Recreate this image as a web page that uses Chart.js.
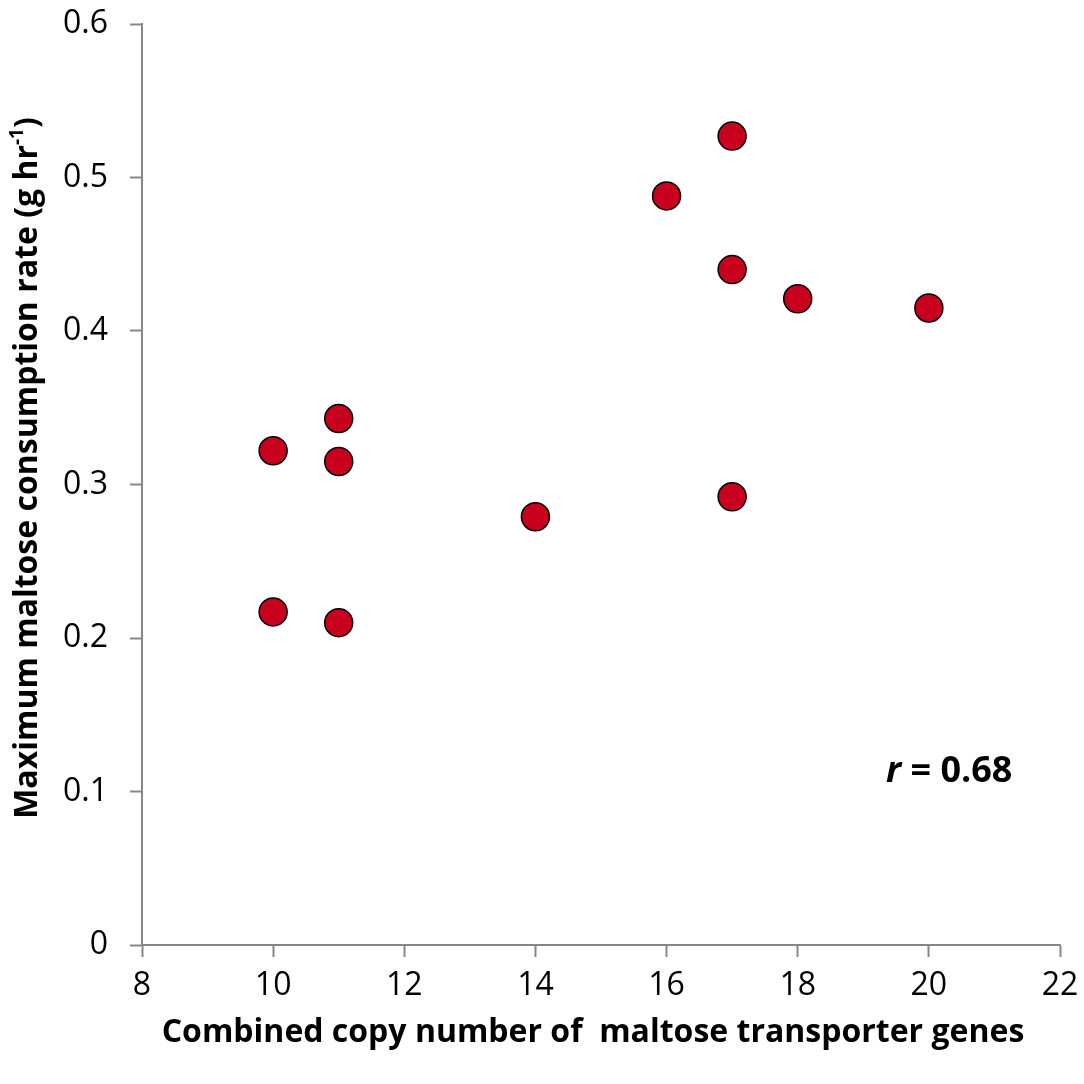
<!DOCTYPE html>
<html>
<head>
<meta charset="utf-8">
<script src="https://cdn.jsdelivr.net/npm/chart.js@4.4.1/dist/chart.umd.min.js"></script>
<style>
  html, body { margin: 0; padding: 0; background: #fff; }
  #wrap { width: 1084px; height: 1084px; }
</style>
</head>
<body>
<div id="wrap"><canvas id="chart" width="1084" height="1084"></canvas></div>
<script>
// data
const copyNumbers = [10, 10, 11, 11, 11, 14, 16, 17, 17, 17, 18, 20];
const maltoseRates = [0.322, 0.217, 0.343, 0.315, 0.210, 0.279, 0.488, 0.527, 0.440, 0.292, 0.421, 0.415];
const xTicks = [8, 10, 12, 14, 16, 18, 20, 22];
const yTicks = [0, 0.1, 0.2, 0.3, 0.4, 0.5, 0.6];

const xTitle = 'Combined copy number of  maltose transporter genes';
const yTitle = 'Maximum maltose consumption rate (g hr';
const yTitleSup = '-1';
const rValue = '0.68';

const FONT = '"Open Sans", "Noto Sans", sans-serif';
const axisGray = '#878787';

// draws axis titles (with superscript) and the r annotation
const textPlugin = {
    id: 'textPlugin',
    afterDraw(chart) {
        const ctx = chart.ctx;
        const area = chart.chartArea;
        ctx.save();
        ctx.fillStyle = '#000';
        ctx.textBaseline = 'middle';

        // x title
        ctx.font = 'bold 32px ' + FONT;
        ctx.textAlign = 'center';
        ctx.fillText(xTitle, 593, 1033);

        // y title, rotated
        ctx.translate(28, 468);
        ctx.rotate(-Math.PI / 2);
        ctx.font = 'bold 32px ' + FONT;
        const w1 = ctx.measureText(yTitle).width;
        ctx.font = 'bold 19px ' + FONT;
        const w2 = ctx.measureText(yTitleSup).width;
        ctx.font = 'bold 32px ' + FONT;
        const w3 = ctx.measureText(')').width;
        let x0 = -(w1 + w2 + w3) / 2;
        ctx.textAlign = 'left';
        ctx.fillText(yTitle, x0, 0);
        ctx.font = 'bold 19px ' + FONT;
        ctx.fillText(yTitleSup, x0 + w1, -10);
        ctx.font = 'bold 32px ' + FONT;
        ctx.fillText(')', x0 + w1 + w2, 0);
        ctx.restore();

        // r = 0.68
        ctx.save();
        ctx.fillStyle = '#000';
        ctx.textBaseline = 'middle';
        ctx.textAlign = 'left';
        ctx.font = 'italic bold 36px ' + FONT;
        const rw = ctx.measureText('r').width;
        ctx.fillText('r', 886, 772);
        ctx.font = 'bold 36px ' + FONT;
        ctx.fillText(' = ' + rValue, 886 + rw, 772);
        ctx.restore();
    }
};

new Chart(document.getElementById('chart'), {
    type: 'scatter',
    data: {
        datasets: [{
            data: copyNumbers.map((x, i) => ({ x: x, y: maltoseRates[i] })),
            backgroundColor: '#C8001E',
            borderColor: '#000',
            borderWidth: 1.5,
            pointRadius: 14,
            pointHoverRadius: 14
        }]
    },
    options: {
        responsive: false,
        animation: false,
        layout: { padding: { top: 24, right: 24, left: 0, bottom: 0 } },
        plugins: {
            legend: { display: false },
            tooltip: { enabled: false }
        },
        scales: {
            x: {
                type: 'linear',
                min: 8,
                max: 22,
                afterBuildTicks: axis => { axis.ticks = xTicks.map(v => ({ value: v })); },
                afterFit: axis => {
                    axis.height = 139;
                    axis.paddingLeft = 0;
                    axis.paddingRight = 0;
                },
                border: { color: axisGray, width: 2 },
                grid: { drawOnChartArea: false, tickLength: 12, color: axisGray, tickColor: axisGray, tickWidth: 2 },
                ticks: { color: '#000', font: { family: FONT, size: 32 }, padding: 10 }
            },
            y: {
                min: 0,
                max: 0.6,
                afterBuildTicks: axis => { axis.ticks = yTicks.map(v => ({ value: v })); },
                afterFit: axis => {
                    axis.width = 142;
                    axis.paddingTop = 0;
                    axis.paddingBottom = 0;
                },
                border: { color: axisGray, width: 2 },
                grid: { drawOnChartArea: false, tickLength: 12, color: axisGray, tickColor: axisGray, tickWidth: 2 },
                ticks: {
                    color: '#000',
                    font: { family: FONT, size: 32 },
                    padding: 22,
                    callback: v => (v === 0 ? '0' : v.toFixed(1))
                }
            }
        }
    },
    plugins: [textPlugin]
});
</script>
</body>
</html>
